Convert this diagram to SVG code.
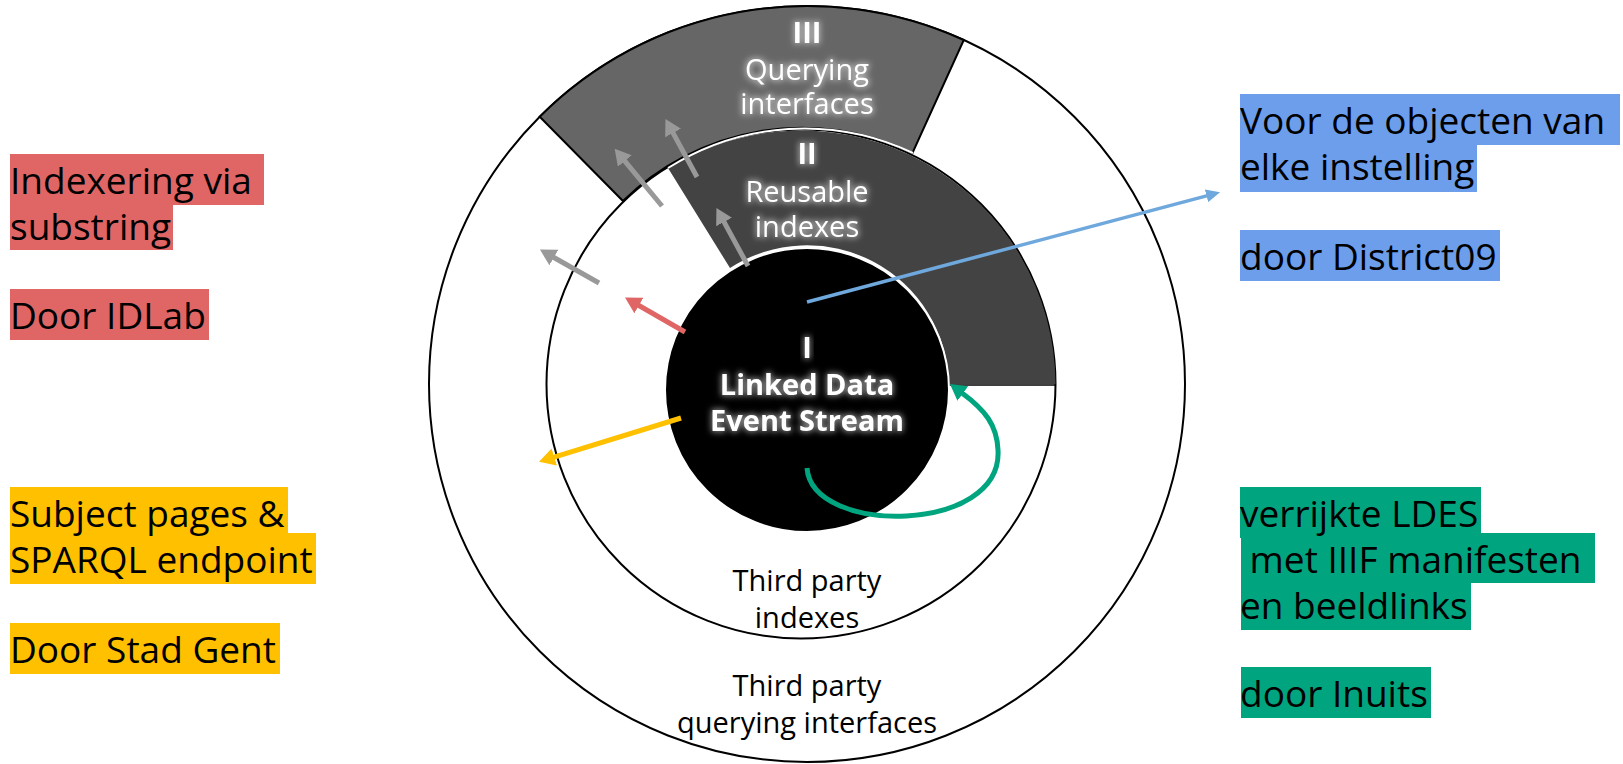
<svg xmlns="http://www.w3.org/2000/svg" width="1623" height="764" viewBox="0 0 1623 764">
<style>
.lbl{font-family:"Open Sans","Liberation Sans",sans-serif;font-size:37px;fill:#000}
.ring{font-family:"Open Sans","Liberation Sans",sans-serif;font-size:29px;text-anchor:middle}
.wt{fill:#fff;filter:url(#glow)}
.bt{fill:#000}
.b{font-weight:bold}
.red{fill:#E06666}.yel{fill:#FFC000}.blu{fill:#6D9EEB}.grn{fill:#00A57F}
.conn{fill:none;stroke-linecap:butt}
</style>
<defs>
<filter id="glow" x="-20%" y="-60%" width="140%" height="220%">
<feMorphology in="SourceAlpha" operator="dilate" radius="1" result="d"/>
<feGaussianBlur in="d" stdDeviation="3" result="b"/>
<feFlood flood-color="#ffffff" flood-opacity="0.55"/>
<feComposite in2="b" operator="in" result="g"/>
<feMerge><feMergeNode in="g"/><feMergeNode in="SourceGraphic"/></feMerge>
</filter>
<marker id="hRed" viewBox="0 0 16 18" refX="1" refY="9" markerWidth="16" markerHeight="18" markerUnits="userSpaceOnUse" orient="auto"><path d="M0,0L16,9L0,18z" fill="#E06666"/></marker>
<marker id="hGrey" viewBox="0 0 16 18" refX="1" refY="9" markerWidth="16" markerHeight="18" markerUnits="userSpaceOnUse" orient="auto"><path d="M0,0L16,9L0,18z" fill="#999999"/></marker>
<marker id="hYel" viewBox="0 0 16 18" refX="1" refY="9" markerWidth="16" markerHeight="18" markerUnits="userSpaceOnUse" orient="auto"><path d="M0,0L16,9L0,18z" fill="#FFC000"/></marker>
<marker id="hBlue" viewBox="0 0 14 13" refX="1" refY="6.5" markerWidth="14" markerHeight="13" markerUnits="userSpaceOnUse" orient="auto"><path d="M0,0L14,6.5L0,13z" fill="#6FA8DC"/></marker>
<marker id="hGrn" viewBox="0 0 16 18" refX="1" refY="9" markerWidth="16" markerHeight="18" markerUnits="userSpaceOnUse" orient="auto"><path d="M0,0L16,9L0,18z" fill="#00A57F"/></marker>
</defs>
<rect width="1623" height="764" fill="#fff"/>

<g id="ring-querying-third">
<circle cx="807" cy="384" r="378" fill="#fff" stroke="#000" stroke-width="2"/>
</g>
<g id="sector-querying-interfaces">
<path d="M539.7,116.7 A378,378 0 0 1 963.8,40 L912.5,153 A255,255 0 0 0 623,201 Z" fill="#666666" stroke="#000" stroke-width="2" stroke-linejoin="miter"/>
</g>
<g id="ring-indexes-third">
<circle cx="801" cy="384" r="254.5" fill="#fff" stroke="#000" stroke-width="2"/>
</g>
<g id="sector-reusable-indexes">
<path d="M730,268 L668,168 A254.5,254.5 0 0 1 1055.5,384 L949,384 A142,142 0 0 0 730,268 Z" fill="#434343"/>
<path d="M668,168 A254.5,254.5 0 0 1 913,153" fill="none" stroke="#fff" stroke-width="2"/>
<line x1="949" y1="385" x2="1056" y2="385" stroke="#000" stroke-width="1.5"/>
</g>
<g id="core-ldes">
<circle cx="807" cy="390" r="142" fill="#000" stroke="#fff" stroke-width="2"/>
</g>

<g id="text-querying">
<text class="ring wt b" x="807" y="43">III</text>
<text class="ring wt" x="807" y="80">Querying</text>
<text class="ring wt" x="807" y="114">interfaces</text>
</g>
<g id="text-reusable">
<text class="ring wt b" x="807" y="164">II</text>
<text class="ring wt" x="807" y="202">Reusable</text>
<text class="ring wt" x="807" y="237">indexes</text>
</g>
<g id="text-ldes">
<text class="ring wt b" x="807" y="358">I</text>
<text class="ring wt b" x="807" y="395">Linked Data</text>
<text class="ring wt b" x="807" y="431">Event Stream</text>
</g>
<g id="text-third-indexes">
<text class="ring bt" x="807" y="591">Third party</text>
<text class="ring bt" x="807" y="628">indexes</text>
</g>
<g id="text-third-querying">
<text class="ring bt" x="807" y="696">Third party</text>
<text class="ring bt" x="807" y="733">querying interfaces</text>
</g>

<g id="label-idlab">
<rect class="red" x="10" y="154" width="254" height="51"/>
<rect class="red" x="10" y="200" width="163" height="50"/>
<rect class="red" x="10" y="289" width="199" height="51"/>
<text class="lbl" x="10" y="194">Indexering via </text>
<text class="lbl" x="10" y="240">substring</text>
<text class="lbl" x="10" y="329">Door IDLab</text>
</g>
<g id="label-stadgent">
<rect class="yel" x="10" y="487" width="278" height="51"/>
<rect class="yel" x="10" y="533" width="306" height="51"/>
<rect class="yel" x="10" y="623" width="270" height="51"/>
<text class="lbl" x="10" y="527">Subject pages &amp;</text>
<text class="lbl" x="10" y="573">SPARQL endpoint</text>
<text class="lbl" x="10" y="663">Door Stad Gent</text>
</g>
<g id="label-district09">
<rect class="blu" x="1240" y="94" width="380" height="51"/>
<rect class="blu" x="1240" y="140" width="237" height="52"/>
<rect class="blu" x="1240" y="230" width="260" height="51"/>
<text class="lbl" x="1240" y="134">Voor de objecten van </text>
<text class="lbl" x="1240" y="180">elke instelling</text>
<text class="lbl" x="1240" y="270">door District09</text>
</g>
<g id="label-inuits">
<rect class="grn" x="1240" y="487" width="241" height="51"/>
<rect class="grn" x="1241" y="533" width="354" height="50"/>
<rect class="grn" x="1241" y="579" width="230" height="51"/>
<rect class="grn" x="1241" y="667" width="190" height="51"/>
<text class="lbl" x="1240" y="527">verrijkte LDES</text>
<text class="lbl" x="1240" y="573" xml:space="preserve"> met IIIF manifesten </text>
<text class="lbl" x="1240" y="619">en beeldlinks</text>
<text class="lbl" x="1240" y="707">door Inuits</text>
</g>

<g id="connectors">
<line class="conn" x1="599" y1="283" x2="553" y2="257" stroke="#999999" stroke-width="5" marker-end="url(#hGrey)"/>
<line class="conn" x1="662" y1="206" x2="624.2" y2="160.3" stroke="#999999" stroke-width="5" marker-end="url(#hGrey)"/>
<line class="conn" x1="697" y1="177" x2="672.6" y2="132.1" stroke="#999999" stroke-width="5" marker-end="url(#hGrey)"/>
<line class="conn" x1="748" y1="266" x2="723.6" y2="221.1" stroke="#999999" stroke-width="5" marker-end="url(#hGrey)"/>
<line class="conn" x1="685" y1="332" x2="638" y2="305" stroke="#E06666" stroke-width="5" marker-end="url(#hRed)"/>
<line class="conn" x1="681" y1="418" x2="553.3" y2="457.3" stroke="#FFC000" stroke-width="5" marker-end="url(#hYel)"/>
<line class="conn" x1="807" y1="302" x2="1207.5" y2="195.6" stroke="#6FA8DC" stroke-width="3.5" marker-end="url(#hBlue)"/>
<path class="conn" d="M807,468 C812,536 1003,534 998,450 C997,425 985,410 962,393" stroke="#00A57F" stroke-width="5" marker-end="url(#hGrn)"/>
</g>
</svg>
